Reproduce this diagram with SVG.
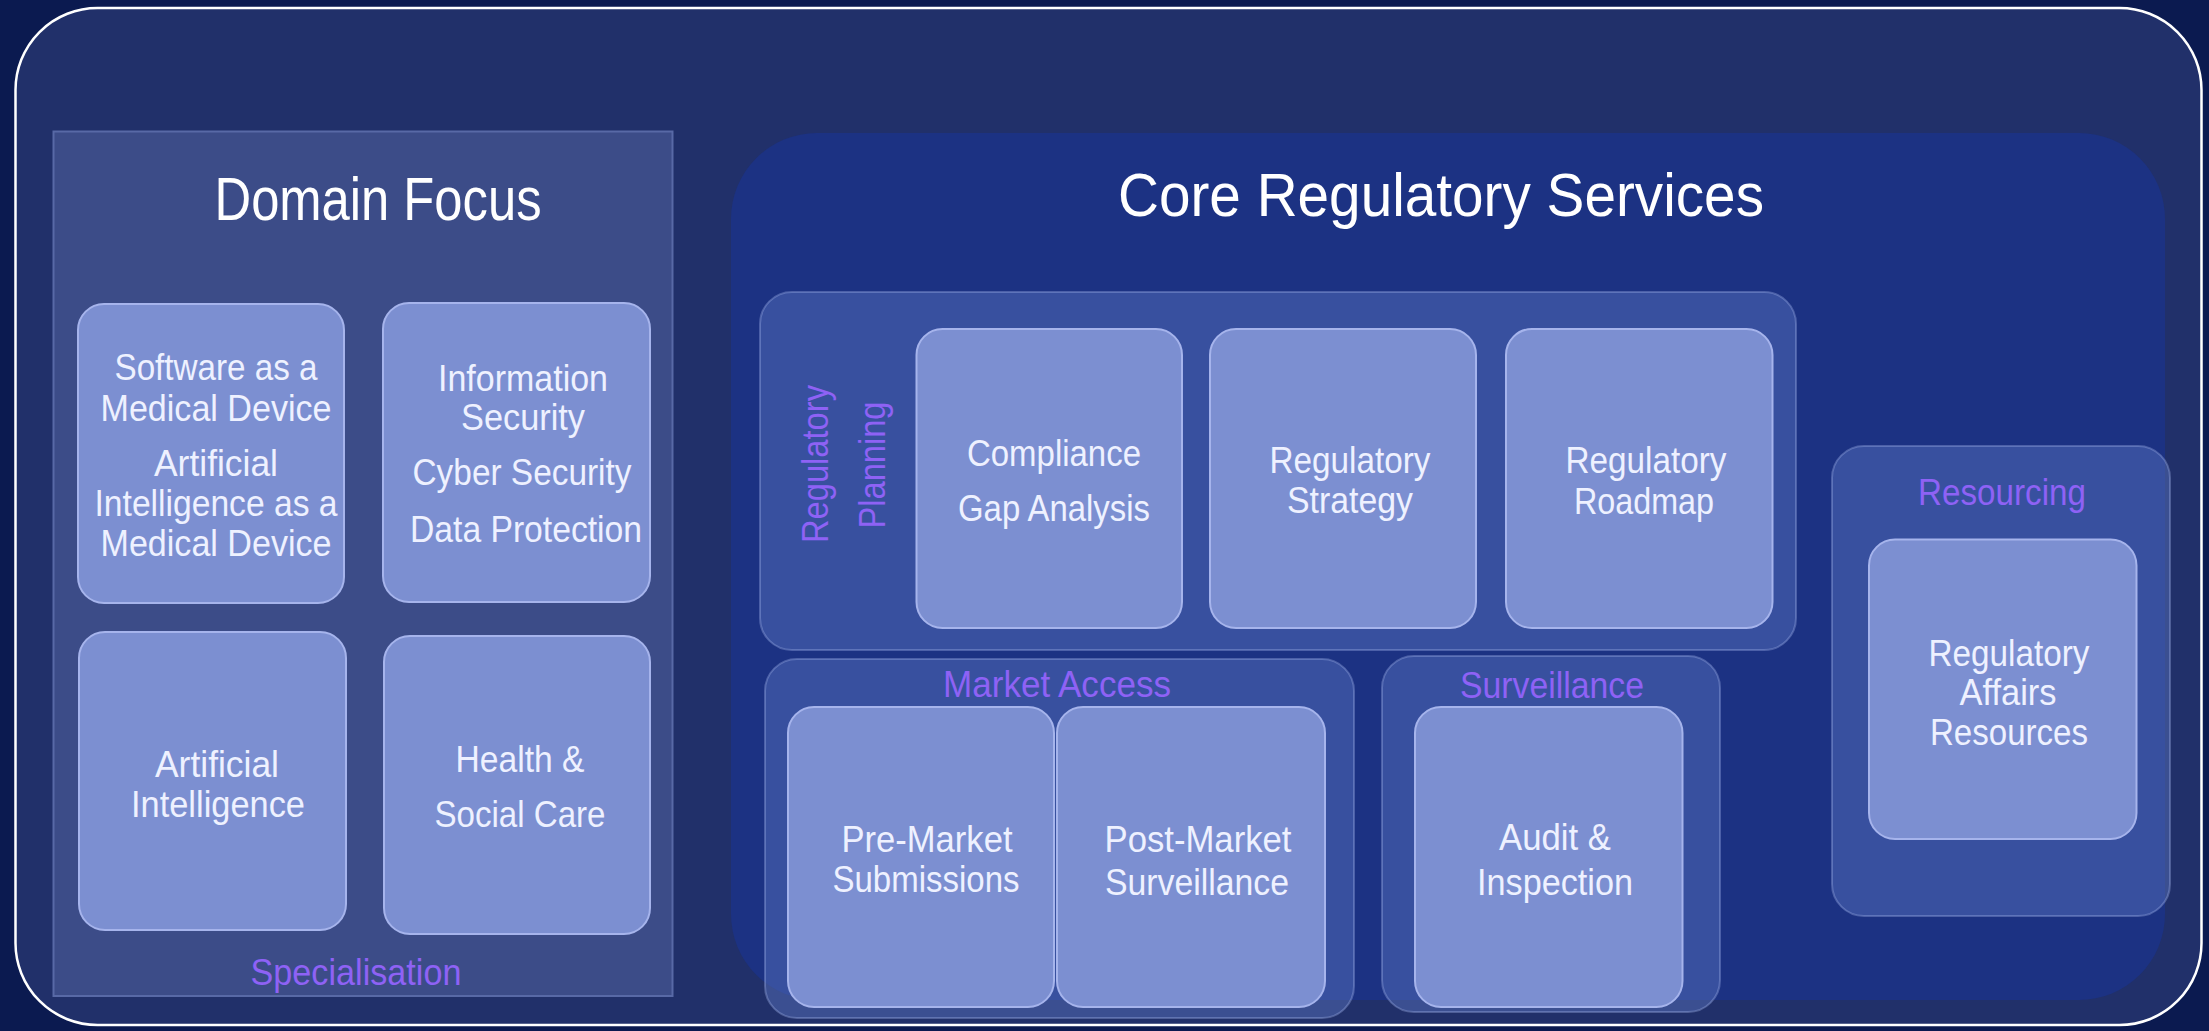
<svg xmlns="http://www.w3.org/2000/svg" width="2209" height="1031" viewBox="0 0 2209 1031">
<style>
.bg{fill:#0b1a50}
.outer{fill:#21306a;stroke:#ffffff;stroke-width:2.5}
.dom{fill:#3c4c88;stroke:#5869a6;stroke-width:2}
.core{fill:#1c3283}
.grp{fill:rgba(92,118,192,0.45);stroke:rgba(165,182,238,0.35);stroke-width:2}
.box{fill:#7c8fd1;stroke:#a6b4ec;stroke-width:2}
text{font-family:"Liberation Sans Narrow","Liberation Sans",Arial,sans-serif;font-size:37px;fill:#eef1ff;text-anchor:middle}
.title{font-size:62px;fill:#ffffff}
.lbl{fill:#8e62f5}
.vert{font-size:36px}
</style>
<rect class="bg" x="0" y="0" width="2209" height="1031"/>
<g id="frame"><rect class="outer" x="15.5" y="8" width="2186" height="1017" rx="82"/></g>

<g id="domain-focus">
<rect class="dom" x="53.5" y="131.5" width="619" height="864.5"/>
<text class="title" x="378" y="220" textLength="327" lengthAdjust="spacingAndGlyphs">Domain Focus</text>
<text class="lbl" x="356" y="985" textLength="211" lengthAdjust="spacingAndGlyphs">Specialisation</text>
</g>
<g id="samd">
<rect class="box" x="78" y="304" width="266" height="299" rx="26"/>
<text x="216" y="380" textLength="203" lengthAdjust="spacingAndGlyphs">Software as a</text>
<text x="216" y="421" textLength="231" lengthAdjust="spacingAndGlyphs">Medical Device</text>
<text x="216" y="476" textLength="124" lengthAdjust="spacingAndGlyphs">Artificial</text>
<text x="216" y="516" textLength="243" lengthAdjust="spacingAndGlyphs">Intelligence as a</text>
<text x="216" y="556" textLength="231" lengthAdjust="spacingAndGlyphs">Medical Device</text>
</g>
<g id="infosec">
<rect class="box" x="383" y="303" width="267" height="299" rx="26"/>
<text x="523" y="391" textLength="170" lengthAdjust="spacingAndGlyphs">Information</text>
<text x="523" y="430" textLength="124" lengthAdjust="spacingAndGlyphs">Security</text>
<text x="522" y="485" textLength="219" lengthAdjust="spacingAndGlyphs">Cyber Security</text>
<text x="526" y="542" textLength="232" lengthAdjust="spacingAndGlyphs">Data Protection</text>
</g>
<g id="ai">
<rect class="box" x="79" y="632" width="267" height="298" rx="26"/>
<text x="217" y="777" textLength="124" lengthAdjust="spacingAndGlyphs">Artificial</text>
<text x="218" y="817" textLength="174" lengthAdjust="spacingAndGlyphs">Intelligence</text>
</g>
<g id="health">
<rect class="box" x="384" y="636" width="266" height="298" rx="26"/>
<text x="520" y="772" textLength="129" lengthAdjust="spacingAndGlyphs">Health &amp;</text>
<text x="520" y="827" textLength="171" lengthAdjust="spacingAndGlyphs">Social Care</text>
</g>

<g id="core-services">
<rect class="core" x="731" y="133" width="1434" height="867" rx="86"/>
<text class="title" x="1441" y="216" textLength="646" lengthAdjust="spacingAndGlyphs">Core Regulatory Services</text>
</g>

<g id="regulatory-planning">
<rect class="grp" x="760" y="292" width="1036" height="358" rx="32"/>
<text class="lbl vert" transform="translate(828,464) rotate(-90)" x="0" y="0" textLength="158" lengthAdjust="spacingAndGlyphs">Regulatory</text>
<text class="lbl vert" transform="translate(885,465) rotate(-90)" x="0" y="0" textLength="127" lengthAdjust="spacingAndGlyphs">Planning</text>
</g>
<g id="gap-analysis">
<rect class="box" x="916.5" y="329" width="265.5" height="299" rx="26"/>
<text x="1054" y="466" textLength="174" lengthAdjust="spacingAndGlyphs">Compliance</text>
<text x="1054" y="521" textLength="192" lengthAdjust="spacingAndGlyphs">Gap Analysis</text>
</g>
<g id="strategy">
<rect class="box" x="1210" y="329" width="266" height="299" rx="26"/>
<text x="1350" y="473" textLength="161" lengthAdjust="spacingAndGlyphs">Regulatory</text>
<text x="1350" y="513" textLength="126" lengthAdjust="spacingAndGlyphs">Strategy</text>
</g>
<g id="roadmap">
<rect class="box" x="1506" y="329" width="266.5" height="299" rx="26"/>
<text x="1646" y="473" textLength="161" lengthAdjust="spacingAndGlyphs">Regulatory</text>
<text x="1644" y="514" textLength="140" lengthAdjust="spacingAndGlyphs">Roadmap</text>
</g>

<g id="market-access">
<rect class="grp" x="765" y="659" width="589" height="359" rx="32"/>
<text class="lbl" x="1057" y="697" textLength="228" lengthAdjust="spacingAndGlyphs">Market Access</text>
</g>
<g id="pre-market">
<rect class="box" x="788" y="707" width="266" height="300" rx="26"/>
<text x="927" y="852" textLength="171" lengthAdjust="spacingAndGlyphs">Pre-Market</text>
<text x="926" y="892" textLength="187" lengthAdjust="spacingAndGlyphs">Submissions</text>
</g>
<g id="post-market">
<rect class="box" x="1057" y="707" width="268" height="300" rx="26"/>
<text x="1198" y="852" textLength="187" lengthAdjust="spacingAndGlyphs">Post-Market</text>
<text x="1197" y="895" textLength="184" lengthAdjust="spacingAndGlyphs">Surveillance</text>
</g>

<g id="surveillance">
<rect class="grp" x="1382" y="656" width="338" height="356" rx="32"/>
<text class="lbl" x="1552" y="698" textLength="184" lengthAdjust="spacingAndGlyphs">Surveillance</text>
</g>
<g id="audit">
<rect class="box" x="1415" y="707" width="267.5" height="300" rx="26"/>
<text x="1555" y="850" textLength="112" lengthAdjust="spacingAndGlyphs">Audit &amp;</text>
<text x="1555" y="895" textLength="156" lengthAdjust="spacingAndGlyphs">Inspection</text>
</g>

<g id="resourcing">
<rect class="grp" x="1832" y="446" width="338" height="470" rx="32"/>
<text class="lbl" x="2002" y="505" textLength="168" lengthAdjust="spacingAndGlyphs">Resourcing</text>
</g>
<g id="ra-resources">
<rect class="box" x="1869" y="539.5" width="267.5" height="299.5" rx="26"/>
<text x="2009" y="666" textLength="161" lengthAdjust="spacingAndGlyphs">Regulatory</text>
<text x="2008" y="705" textLength="97" lengthAdjust="spacingAndGlyphs">Affairs</text>
<text x="2009" y="745" textLength="158" lengthAdjust="spacingAndGlyphs">Resources</text>
</g>

<g id="connectors"></g>
</svg>
